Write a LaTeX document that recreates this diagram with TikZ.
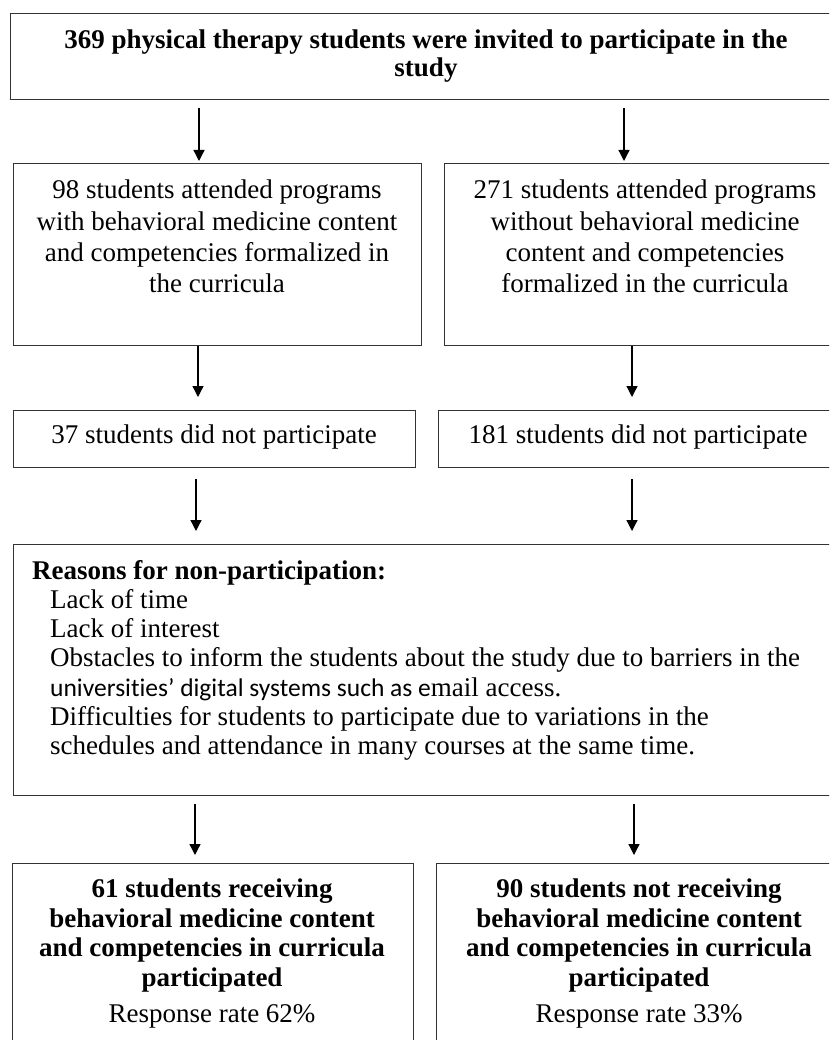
\documentclass[tikz,border=0pt]{standalone}
\usepackage{fontspec}
\setmainfont{Liberation Serif}
\newfontfamily\carlitofont[Ligatures=NoCommon]{Carlito}
\usetikzlibrary{arrows.meta,calc}
\begin{document}
\begin{tikzpicture}[x=1pt,y=-1pt,
  box/.style={draw=black!80,line width=1.1pt,inner sep=0pt,anchor=north west},
  txt/.style={inner sep=0pt,align=center},
  arr/.style={-{Triangle[width=11pt,length=11pt]},line width=1.3pt}]
\useasboundingbox (0,0) rectangle (829,1040);
\clip (0,0) rectangle (829,1040);
% boxes
\node[box,minimum width=836pt,minimum height=86pt] (top) at (10,13) {};
\node[box,minimum width=408pt,minimum height=182pt] (b2l) at (13,163) {};
\node[box,minimum width=402pt,minimum height=182pt] (b2r) at (444,163) {};
\node[box,minimum width=402pt,minimum height=57pt] (b3l) at (13,410) {};
\node[box,minimum width=408pt,minimum height=57pt] (b3r) at (438,410) {};
\node[box,minimum width=833pt,minimum height=251pt] (b4) at (13,544) {};
\node[box,minimum width=401pt,minimum height=200pt] (b5l) at (12,863) {};
\node[box,minimum width=410pt,minimum height=200pt] (b5r) at (436,863) {};
% texts
\node[txt,anchor=north,font=\fontsize{27}{28}\selectfont\bfseries] (ttop) at (426,30)
  {369 physical therapy students were invited to participate in the\\study};
\node[txt,anchor=north,font=\fontsize{27}{31.3}\selectfont] (t2l) at (217,180)
  {98 students attended programs\\with behavioral medicine content\\and competencies formalized in\\the curricula};
\node[txt,anchor=north,font=\fontsize{27}{31.3}\selectfont] (t2r) at (645,180)
  {271 students attended programs\\without behavioral medicine\\content and competencies\\formalized in the curricula};
\node[txt,anchor=base,font=\fontsize{27}{31}\selectfont] (t3l) at (214,443)
  {37 students did not participate};
\node[txt,anchor=base,font=\fontsize{27}{31}\selectfont] (t3r) at (638,443)
  {181 students did not participate};
\node[inner sep=0pt,align=left,anchor=north west,font=\fontsize{27}{29.2}\selectfont] (t4) at (32,560)
  {\textbf{Reasons for non-participation:}\\
   \hspace*{18pt}Lack of time\\
   \hspace*{18pt}Lack of interest\\
   \hspace*{18pt}Obstacles to inform the students about the study due to barriers in the\\
   \hspace*{18pt}{\carlitofont\fontsize{25.5}{29.2}\selectfont universities’ digital systems such as e}mail access.\\
   \hspace*{18pt}Difficulties for students to participate due to variations in the\\
   \hspace*{18pt}schedules and attendance in many courses at the same time.};
\node[txt,anchor=north,font=\fontsize{27}{29.5}\selectfont] (t5l) at (212,879)
  {\textbf{61 students receiving}\\\textbf{behavioral medicine content}\\\textbf{and competencies in curricula}\\\textbf{participated}\\[7pt]Response rate 62\%};
\node[txt,anchor=north,font=\fontsize{27}{29.5}\selectfont] (t5r) at (639,879)
  {\textbf{90 students not receiving}\\\textbf{behavioral medicine content}\\\textbf{and competencies in curricula}\\\textbf{participated}\\[7pt]Response rate 33\%};
% arrow x positions
\coordinate (x1l) at (199,0); \coordinate (x1r) at (624,0);
\coordinate (x2l) at (198,0); \coordinate (x2r) at (632,0);
\coordinate (x3l) at (196,0); \coordinate (x3r) at (632,0);
\coordinate (x4l) at (195,0); \coordinate (x4r) at (634,0);
% arrows
\draw[arr] ($(top.south -| x1l)+(0,8)$) -- ($(b2l.north -| x1l)+(0,-2)$);
\draw[arr] ($(top.south -| x1r)+(0,8)$) -- ($(b2r.north -| x1r)+(0,-2)$);
\draw[arr] (b2l.south -| x2l) -- ($(b3l.north -| x2l)+(0,-13)$);
\draw[arr] (b2r.south -| x2r) -- ($(b3r.north -| x2r)+(0,-13)$);
\draw[arr] ($(b3l.south -| x3l)+(0,11)$) -- ($(b4.north -| x3l)+(0,-13)$);
\draw[arr] ($(b3r.south -| x3r)+(0,11)$) -- ($(b4.north -| x3r)+(0,-13)$);
\draw[arr] ($(b4.south -| x4l)+(0,8)$) -- ($(b5l.north -| x4l)+(0,-8)$);
\draw[arr] ($(b4.south -| x4r)+(0,8)$) -- ($(b5r.north -| x4r)+(0,-8)$);
\end{tikzpicture}
\end{document}
